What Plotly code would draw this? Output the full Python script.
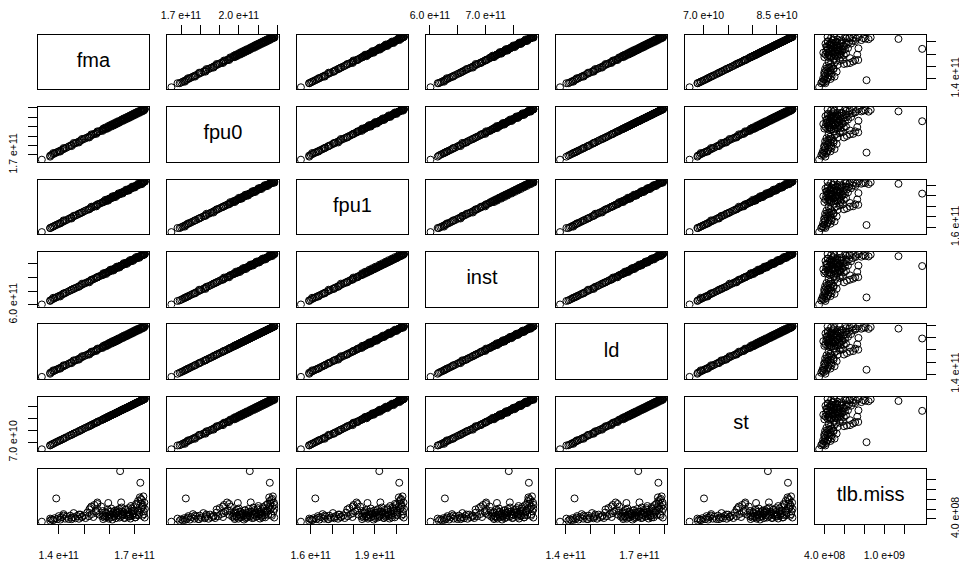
import plotly.graph_objects as go
from plotly.subplots import make_subplots

# the page body has an 8px margin, so the figure is 8px smaller than the window
W, H = 959, 560
OFF = 8

names = ["fma", "fpu0", "fpu1", "inst", "ld", "st", "tlb.miss"]

# values in units of 1e11
fma_e11 = [1.333, 1.366, 1.372, 1.378, 1.384, 1.390, 1.394, 1.400, 1.406, 1.413, 1.419, 1.425,
           1.431, 1.439, 1.445, 1.451, 1.459, 1.466, 1.472, 1.480, 1.486, 1.492, 1.500, 1.506,
           1.513, 1.519, 1.525, 1.531, 1.537, 1.541, 1.547, 1.553, 1.555, 1.561, 1.568, 1.574,
           1.578, 1.582, 1.586, 1.590, 1.594, 1.596, 1.598, 1.602, 1.606, 1.610, 1.615, 1.619,
           1.623, 1.627, 1.631, 1.635, 1.639, 1.643, 1.645, 1.647, 1.651, 1.655, 1.659, 1.663,
           1.668, 1.672, 1.676, 1.680, 1.684, 1.688, 1.692, 1.696, 1.700, 1.704, 1.708, 1.712,
           1.717, 1.721, 1.723, 1.725, 1.727, 1.729, 1.731, 1.733, 1.735, 1.737, 1.739, 1.741, 1.740,
           1.366, 1.378, 1.406, 1.419, 1.451, 1.459, 1.480, 1.492, 1.521, 1.529, 1.549, 1.553,
           1.574, 1.576, 1.588, 1.584, 1.596, 1.596, 1.608, 1.604, 1.617, 1.612, 1.625, 1.621,
           1.633, 1.629, 1.641, 1.637, 1.653, 1.649, 1.661, 1.657, 1.670, 1.666, 1.678, 1.674,
           1.686, 1.682, 1.694, 1.690, 1.702, 1.698, 1.710, 1.706, 1.719, 1.714, 1.729, 1.725,
           1.737, 1.733]
fpu0_e11 = [1.650, 1.693, 1.701, 1.709, 1.717, 1.725, 1.730, 1.738, 1.746, 1.754, 1.762, 1.770,
            1.778, 1.789, 1.797, 1.805, 1.816, 1.824, 1.832, 1.843, 1.851, 1.859, 1.869, 1.877,
            1.885, 1.893, 1.901, 1.909, 1.918, 1.923, 1.931, 1.939, 1.942, 1.950, 1.958, 1.966,
            1.971, 1.976, 1.982, 1.987, 1.992, 1.995, 1.998, 2.003, 2.008, 2.014, 2.019, 2.025,
            2.030, 2.035, 2.041, 2.046, 2.051, 2.057, 2.059, 2.062, 2.067, 2.073, 2.078, 2.083,
            2.089, 2.094, 2.099, 2.105, 2.110, 2.115, 2.121, 2.126, 2.132, 2.137, 2.142, 2.148,
            2.153, 2.158, 2.161, 2.164, 2.166, 2.169, 2.172, 2.174, 2.177, 2.180, 2.182, 2.185, 2.184,
            1.682, 1.720, 1.736, 1.773, 1.794, 1.827, 1.832, 1.869, 1.885, 1.918, 1.923, 1.950,
            1.955, 1.979, 1.974, 1.990, 1.984, 2.006, 2.000, 2.016, 2.011, 2.027, 2.022, 2.038,
            2.033, 2.049, 2.043, 2.059, 2.059, 2.075, 2.070, 2.086, 2.081, 2.097, 2.091, 2.107,
            2.102, 2.118, 2.113, 2.129, 2.123, 2.140, 2.134, 2.150, 2.145, 2.161, 2.158, 2.174,
            2.169, 2.185]
fpu1_e11 = [1.555, 1.593, 1.601, 1.608, 1.615, 1.622, 1.627, 1.634, 1.641, 1.649, 1.656, 1.663,
            1.670, 1.680, 1.687, 1.694, 1.704, 1.711, 1.718, 1.728, 1.735, 1.742, 1.752, 1.759,
            1.766, 1.773, 1.781, 1.788, 1.795, 1.800, 1.807, 1.814, 1.817, 1.824, 1.831, 1.838,
            1.843, 1.848, 1.853, 1.857, 1.862, 1.865, 1.867, 1.872, 1.877, 1.881, 1.886, 1.891,
            1.896, 1.901, 1.905, 1.910, 1.915, 1.920, 1.922, 1.925, 1.929, 1.934, 1.939, 1.944,
            1.949, 1.953, 1.958, 1.963, 1.968, 1.973, 1.977, 1.982, 1.987, 1.992, 1.997, 2.001,
            2.006, 2.011, 2.013, 2.016, 2.018, 2.021, 2.023, 2.025, 2.028, 2.030, 2.033, 2.035, 2.034,
            1.594, 1.607, 1.637, 1.666, 1.684, 1.709, 1.729, 1.741, 1.771, 1.796, 1.799, 1.819,
            1.839, 1.840, 1.850, 1.861, 1.854, 1.869, 1.880, 1.873, 1.884, 1.894, 1.888, 1.898,
            1.909, 1.902, 1.913, 1.923, 1.921, 1.932, 1.942, 1.936, 1.946, 1.957, 1.950, 1.961,
            1.971, 1.964, 1.975, 1.986, 1.979, 1.989, 2.000, 1.993, 2.004, 2.014, 2.010, 2.021,
            2.031, 2.024]
inst_e11 = [6.011, 6.159, 6.186, 6.214, 6.242, 6.269, 6.288, 6.315, 6.343, 6.371, 6.398, 6.426,
            6.454, 6.491, 6.518, 6.546, 6.583, 6.611, 6.638, 6.675, 6.703, 6.731, 6.767, 6.795,
            6.823, 6.850, 6.878, 6.906, 6.934, 6.952, 6.980, 7.007, 7.017, 7.044, 7.072, 7.100,
            7.118, 7.136, 7.155, 7.173, 7.192, 7.201, 7.210, 7.229, 7.247, 7.266, 7.284, 7.303,
            7.321, 7.339, 7.358, 7.376, 7.395, 7.413, 7.422, 7.432, 7.450, 7.469, 7.487, 7.505,
            7.524, 7.542, 7.561, 7.579, 7.598, 7.616, 7.635, 7.653, 7.672, 7.690, 7.708, 7.727,
            7.745, 7.764, 7.773, 7.782, 7.791, 7.801, 7.810, 7.819, 7.828, 7.838, 7.847, 7.856, 7.853,
            6.140, 6.255, 6.303, 6.417, 6.550, 6.579, 6.657, 6.771, 6.819, 6.915, 6.993, 7.004,
            7.081, 7.149, 7.124, 7.164, 7.205, 7.197, 7.238, 7.279, 7.253, 7.293, 7.334, 7.308,
            7.349, 7.389, 7.363, 7.404, 7.463, 7.437, 7.478, 7.518, 7.493, 7.533, 7.574, 7.548,
            7.588, 7.629, 7.603, 7.644, 7.684, 7.659, 7.699, 7.740, 7.714, 7.755, 7.804, 7.779,
            7.819, 7.856]
ld_e11 = [1.377, 1.411, 1.417, 1.423, 1.429, 1.436, 1.440, 1.446, 1.452, 1.459, 1.465, 1.471,
          1.478, 1.486, 1.492, 1.499, 1.507, 1.513, 1.519, 1.528, 1.534, 1.540, 1.549, 1.555,
          1.561, 1.568, 1.574, 1.580, 1.587, 1.591, 1.597, 1.603, 1.605, 1.612, 1.618, 1.624,
          1.628, 1.633, 1.637, 1.641, 1.645, 1.647, 1.649, 1.654, 1.658, 1.662, 1.666, 1.670,
          1.674, 1.679, 1.683, 1.687, 1.691, 1.695, 1.698, 1.700, 1.704, 1.708, 1.712, 1.716,
          1.721, 1.725, 1.729, 1.733, 1.737, 1.742, 1.746, 1.750, 1.754, 1.758, 1.762, 1.767,
          1.771, 1.775, 1.777, 1.779, 1.781, 1.783, 1.786, 1.788, 1.790, 1.792, 1.794, 1.796, 1.795,
          1.403, 1.431, 1.445, 1.473, 1.491, 1.514, 1.520, 1.548, 1.562, 1.586, 1.592, 1.611,
          1.617, 1.634, 1.631, 1.642, 1.640, 1.655, 1.652, 1.663, 1.661, 1.672, 1.669, 1.680,
          1.677, 1.688, 1.686, 1.697, 1.698, 1.709, 1.707, 1.718, 1.715, 1.726, 1.724, 1.734,
          1.732, 1.743, 1.740, 1.751, 1.749, 1.760, 1.757, 1.768, 1.765, 1.776, 1.776, 1.787,
          1.784, 1.795]
# values in units of 1e10
st_e10 = [6.715, 6.883, 6.915, 6.947, 6.978, 7.010, 7.031, 7.062, 7.094, 7.125, 7.157, 7.189,
          7.220, 7.262, 7.294, 7.325, 7.368, 7.399, 7.431, 7.473, 7.504, 7.536, 7.578, 7.610,
          7.641, 7.673, 7.704, 7.736, 7.768, 7.789, 7.820, 7.852, 7.862, 7.894, 7.925, 7.957,
          7.978, 7.999, 8.020, 8.041, 8.062, 8.073, 8.083, 8.104, 8.125, 8.146, 8.167, 8.189,
          8.210, 8.231, 8.252, 8.273, 8.294, 8.315, 8.325, 8.336, 8.357, 8.378, 8.399, 8.420,
          8.441, 8.462, 8.483, 8.504, 8.525, 8.546, 8.567, 8.588, 8.610, 8.631, 8.652, 8.673,
          8.694, 8.715, 8.725, 8.736, 8.746, 8.757, 8.767, 8.778, 8.788, 8.799, 8.809, 8.820, 8.817,
          6.875, 6.942, 7.085, 7.153, 7.317, 7.363, 7.464, 7.532, 7.675, 7.721, 7.822, 7.848,
          7.949, 7.963, 8.022, 8.005, 8.064, 8.069, 8.127, 8.111, 8.170, 8.153, 8.212, 8.195,
          8.254, 8.237, 8.296, 8.279, 8.359, 8.342, 8.401, 8.384, 8.443, 8.426, 8.485, 8.468,
          8.527, 8.511, 8.570, 8.553, 8.612, 8.595, 8.654, 8.637, 8.696, 8.679, 8.748, 8.732,
          8.791, 8.774]
# values in units of 1e8
tlb_e8 = [3.45, 3.66, 3.92, 3.76, 4.17, 8.21, 3.97, 4.59, 3.86, 4.38, 5.00, 4.07,
          4.49, 3.99, 4.69, 4.28, 5.21, 4.15, 4.61, 4.05, 4.90, 4.36, 4.71, 4.19,
          5.31, 4.57, 6.24, 5.02, 4.40, 6.87, 5.52, 7.38, 5.83, 4.88, 6.56, 4.47,
          4.69, 4.28, 5.31, 4.49, 5.93, 7.28, 4.07, 4.90, 5.52, 4.38, 5.11, 4.67,
          5.73, 4.17, 5.29, 4.80, 6.04, 13.80, 4.51, 7.40, 5.50, 4.98, 4.26, 5.85,
          5.19, 4.63, 6.22, 4.92, 4.09, 5.62, 4.73, 6.45, 5.23, 4.34, 6.85, 5.71,
          4.86, 8.42, 11.42, 7.18, 6.14, 7.90, 4.65, 6.54, 8.63, 5.54, 7.36, 6.06, 4.30,
          4.08, 3.77, 4.27, 4.70, 3.96, 4.39, 4.91, 4.48, 5.95, 6.55, 5.20, 7.07,
          5.63, 3.98, 5.12, 4.60, 5.61, 4.37, 6.15, 4.81, 5.42, 3.87, 5.01, 4.50,
          5.82, 5.22, 4.29, 5.53, 4.68, 6.35, 4.18, 5.32, 4.89, 5.94, 4.46, 5.43,
          6.66, 4.58, 5.10, 6.13, 4.31, 5.74, 4.79, 7.08, 5.30, 7.69, 6.46, 8.11,
          4.99, 6.88]

fma = [v * 1e11 for v in fma_e11]
fpu0 = [v * 1e11 for v in fpu0_e11]
fpu1 = [v * 1e11 for v in fpu1_e11]
inst = [v * 1e11 for v in inst_e11]
ld = [v * 1e11 for v in ld_e11]
st = [v * 1e10 for v in st_e10]
tlb_miss = [v * 1e8 for v in tlb_e8]
columns = [fma, fpu0, fpu1, inst, ld, st, tlb_miss]

tick_vals = [
    [1.4e11, 1.5e11, 1.6e11, 1.7e11],
    [1.7e11, 1.8e11, 1.9e11, 2.0e11, 2.1e11, 2.2e11],
    [1.6e11, 1.7e11, 1.8e11, 1.9e11, 2.0e11],
    [6.0e11, 6.5e11, 7.0e11, 7.5e11],
    [1.4e11, 1.5e11, 1.6e11, 1.7e11, 1.8e11],
    [7.0e10, 7.5e10, 8.0e10, 8.5e10],
    [4e8, 6e8, 8e8, 1.0e9, 1.2e9],
]
x_tick_text = [
    ["1.4 e+11", "", "", "1.7 e+11"],
    ["1.7 e+11", "", "", "2.0 e+11", "", ""],
    ["1.6 e+11", "", "", "1.9 e+11", ""],
    ["6.0 e+11", "", "7.0 e+11", ""],
    ["1.4 e+11", "", "", "1.7 e+11", ""],
    ["7.0 e+10", "", "", "8.5 e+10"],
    ["4.0 e+08", "", "", "1.0 e+09", ""],
]
y_tick_text = [
    ["1.4 e+11", "", "", ""],
    ["1.7 e+11", "", "", "", "", ""],
    ["1.6 e+11", "", "", "", ""],
    ["6.0 e+11", "", "", ""],
    ["1.4 e+11", "", "", "", ""],
    ["7.0 e+10", "", "", ""],
    ["4.0 e+08", "", "", "", ""],
]

n = len(names)
FONT = "Liberation Sans, Arial, Helvetica, sans-serif"

fig = make_subplots(rows=n, cols=n, horizontal_spacing=0.01, vertical_spacing=0.01)


def ext_range(vals):
    lo, hi = min(vals), max(vals)
    d = (hi - lo) * 0.04
    return [lo - d, hi + d]


ranges = [ext_range(c) for c in columns]

# panel geometry in window pixels
left0, pitch_x, pw = 37.7, 129.55, 111.3
top0, pitch_y, ph = 34.7, 72.4, 54.6

base_axis = dict(showgrid=False, zeroline=False, showline=True, mirror=True,
                 linecolor="black", linewidth=1, ticks="", showticklabels=False,
                 fixedrange=True, automargin=False)
tick_style = dict(ticks="outside", ticklen=9, tickwidth=1, tickcolor="black",
                  showticklabels=True,
                  tickfont=dict(family=FONT, size=10.5, color="black"))

for i in range(n):
    for j in range(n):
        r, c = i + 1, j + 1
        x0 = left0 + pitch_x * j - OFF
        y0 = top0 + pitch_y * i - OFF
        xa = dict(base_axis, domain=[x0 / W, (x0 + pw) / W], range=ranges[j])
        ya = dict(base_axis, domain=[1 - (y0 + ph) / H, 1 - y0 / H], range=ranges[i])
        if i == 0 and j % 2 == 1:
            xa.update(tick_style, side="top", tickvals=tick_vals[j],
                      ticktext=x_tick_text[j], ticklabelstandoff=2)
        if i == n - 1 and j % 2 == 0:
            xa.update(tick_style, side="bottom", tickvals=tick_vals[j],
                      ticktext=x_tick_text[j], ticklabelstandoff=13)
        if j == 0 and i % 2 == 1:
            ya.update(tick_style, side="left", tickvals=tick_vals[i],
                      ticktext=y_tick_text[i], tickangle=-90, ticklabelstandoff=7)
        if j == n - 1 and i % 2 == 0:
            ya.update(tick_style, side="right", tickvals=tick_vals[i],
                      ticktext=y_tick_text[i], tickangle=-90, ticklabelstandoff=10)
        fig.update_xaxes(xa, row=r, col=c)
        fig.update_yaxes(ya, row=r, col=c)
        if i == j:
            xm = (ranges[j][0] + ranges[j][1]) / 2
            ym = (ranges[i][0] + ranges[i][1]) / 2
            fig.add_trace(go.Scatter(x=[xm], y=[ym], mode="text", text=[names[i]],
                                     textposition="middle center",
                                     textfont=dict(family=FONT, size=20, color="black"),
                                     hoverinfo="skip", showlegend=False),
                          row=r, col=c)
        else:
            fig.add_trace(go.Scatter(x=columns[j], y=columns[i], mode="markers",
                                     marker=dict(symbol="circle-open", size=7, color="black",
                                                 line=dict(width=1, color="black")),
                                     hoverinfo="skip", showlegend=False),
                          row=r, col=c)

fig.update_layout(template="none", width=W, height=H, margin=dict(l=0, r=0, t=0, b=0),
                  paper_bgcolor="white", plot_bgcolor="white",
                  font=dict(family=FONT, color="black"))

fig.write_html("out.html")
